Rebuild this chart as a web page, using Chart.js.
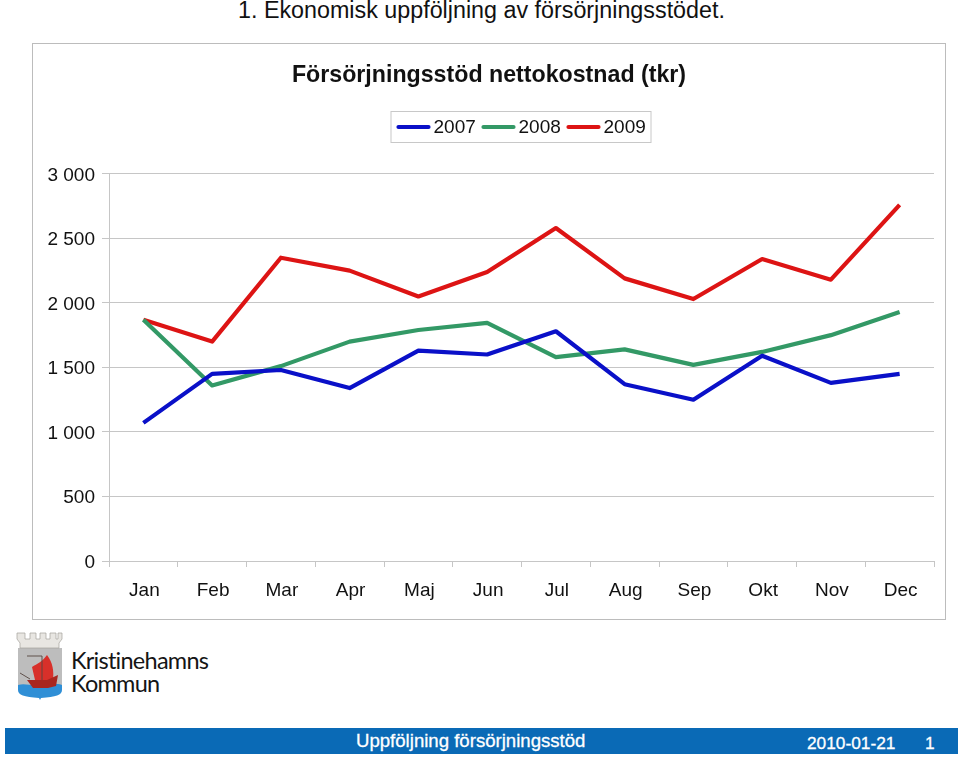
<!DOCTYPE html>
<html lang="sv">
<head>
<meta charset="utf-8">
<title>Försörjningsstöd</title>
<script src="https://cdn.jsdelivr.net/npm/chart.js@4/dist/chart.umd.min.js"></script>
<style>
  html, body { margin: 0; background: #fff; }
  body { position: relative; width: 960px; height: 758px; overflow: hidden; font-family: "Liberation Sans", Arial, sans-serif; }
  .abs { position: absolute; white-space: nowrap; }
  #heading { left: 238px; top: -2px; font-size: 23.3px; line-height: 25px; color: #111; }
  #frame { left: 32px; top: 43px; width: 914px; height: 577px; box-sizing: border-box; border: 1.5px solid #bcbcbc; }
  #chart { position: absolute; left: 32px; top: 43px; }
  #band { left: 5px; top: 728px; width: 953px; height: 26px; background: #0a6ab6; }
  .foot { color: #fff; font-size: 18.6px; line-height: 20px; -webkit-text-stroke: 0.3px #fff; }
  .logo { left: 71px; font-family: Lato, "Open Sans", sans-serif; font-size: 23.5px; line-height: 26px; color: #151515; letter-spacing: -0.75px; }
</style>
</head>
<body>
<div id="heading" class="abs">1. Ekonomisk uppföljning av försörjningsstödet.</div>
<div id="frame" class="abs"></div>
<canvas id="chart" width="914" height="577"></canvas>

<svg class="abs" style="left:15px;top:630px" width="50" height="72" viewBox="0 0 50 72">
  <path d="M3 18h44v37H3z" fill="#bdbdbd"/>
  <path d="M2 3h8v6h5V3h6v6h4V3h6v6h4V3h6v6h2V3h4v6l-3 4v5H5v-5l-3-4z" fill="#e8e6e2" stroke="#a5a29c" stroke-width=".7"/>
  <path d="M3 55c7-2 12 1 22 0s15-2 22 0v5c0 5-6 7-21 8l-1 2-1-2C9 67 3 65 3 60z" fill="#2f8fd6"/>
  <path d="M32 25c-4 6-10 9-15 12l3 13h18c1-9 0-17-6-25z" fill="#d8302a"/>
  <path d="M12 50h20l11-5-2 11-8 2H18z" fill="#a8261f"/>
  <path d="M12 26h15M27 26v24M5 43l10 6" stroke="#55453f" stroke-width=".9" fill="none"/>
</svg>
<div class="abs logo" style="top:647px">Kristinehamns</div>
<div class="abs logo" style="top:670px">Kommun</div>

<div id="band" class="abs"></div>
<div class="abs foot" style="left:356px;top:731px">Uppföljning försörjningsstöd</div>
<div class="abs foot" style="left:807px;top:733px;font-size:17.3px">2010-01-21</div>
<div class="abs foot" style="left:925px;top:733px;font-size:17.3px">1</div>

<script>
const months = ['Jan', 'Feb', 'Mar', 'Apr', 'Maj', 'Jun', 'Jul', 'Aug', 'Sep', 'Okt', 'Nov', 'Dec'];
const values2007 = [1070, 1450, 1480, 1340, 1630, 1600, 1780, 1370, 1250, 1590, 1380, 1450];
const values2008 = [1870, 1360, 1510, 1700, 1790, 1845, 1580, 1640, 1520, 1620, 1750, 1930];
const values2009 = [1870, 1700, 2350, 2250, 2050, 2240, 2580, 2190, 2030, 2340, 2180, 2760];

const FONT = "'Liberation Sans', Arial, sans-serif";
const GRID = '#c6c6c6';

function series(label, data, color) {
  return { label, data, borderColor: color, backgroundColor: color, borderWidth: 4.2, tension: 0, pointRadius: 0, borderCapStyle: 'butt', borderJoinStyle: 'round' };
}

// Legend box sits over the plot centre with tight line/text gaps
const framedLegend = {
  id: 'framedLegend',
  afterDraw(chart) {
    const { ctx, chartArea } = chart;
    const mid = (chartArea.left + chartArea.right) / 2;
    const left = mid - 131;
    ctx.save();
    ctx.strokeStyle = '#c8c8c8';
    ctx.lineWidth = 1;
    ctx.strokeRect(left + 0.5, 68.5, 260, 31);
    ctx.font = `19px ${FONT}`;
    ctx.fillStyle = '#111';
    ctx.textBaseline = 'middle';
    chart.data.datasets.forEach((ds, i) => {
      const x = left + 6 + i * 85;
      ctx.strokeStyle = ds.borderColor;
      ctx.lineWidth = 4.2;
      ctx.lineCap = 'round';
      ctx.beginPath();
      ctx.moveTo(x + 2, 84);
      ctx.lineTo(x + 32, 84);
      ctx.stroke();
      ctx.fillText(ds.label, x + 37, 85);
    });
    ctx.restore();
  },
};

new Chart(document.getElementById('chart'), {
  type: 'line',
  data: {
    labels: months,
    datasets: [
      series('2007', values2007, '#0a10c8'),
      series('2008', values2008, '#339966'),
      series('2009', values2009, '#dd1414'),
    ],
  },
  options: {
    responsive: false,
    animation: false,
    layout: { padding: { left: 12, right: 12, top: 0, bottom: 0 } },
    plugins: {
      legend: { display: false },
      tooltip: { enabled: false },
      title: {
        display: true,
        text: 'Försörjningsstöd nettokostnad (tkr)',
        color: '#111',
        font: { family: FONT, size: 23.2, weight: 'bold', lineHeight: 1.2 },
        padding: { top: 19, bottom: 84 },
      },
    },
    scales: {
      x: {
        offset: true,
        grid: { offset: true, drawOnChartArea: false, color: GRID, tickLength: 6 },
        border: { color: GRID },
        ticks: { color: '#111', font: { family: FONT, size: 19 }, padding: 12, labelOffset: 1, maxRotation: 0, autoSkip: false },
        afterFit(scale) { scale.height = 59; },
      },
      y: {
        min: 0,
        max: 3000,
        grid: { color: GRID, tickLength: 7 },
        border: { color: GRID },
        ticks: {
          stepSize: 500,
          color: '#111',
          padding: 7,
          labelOffset: 1.5,
          font: { family: FONT, size: 19 },
          callback: (v) => String(v).replace(/\B(?=(\d{3})+$)/g, ' '),
        },
        afterFit(scale) { scale.width = 65; },
      },
    },
  },
  plugins: [framedLegend],
});
</script>
</body>
</html>
